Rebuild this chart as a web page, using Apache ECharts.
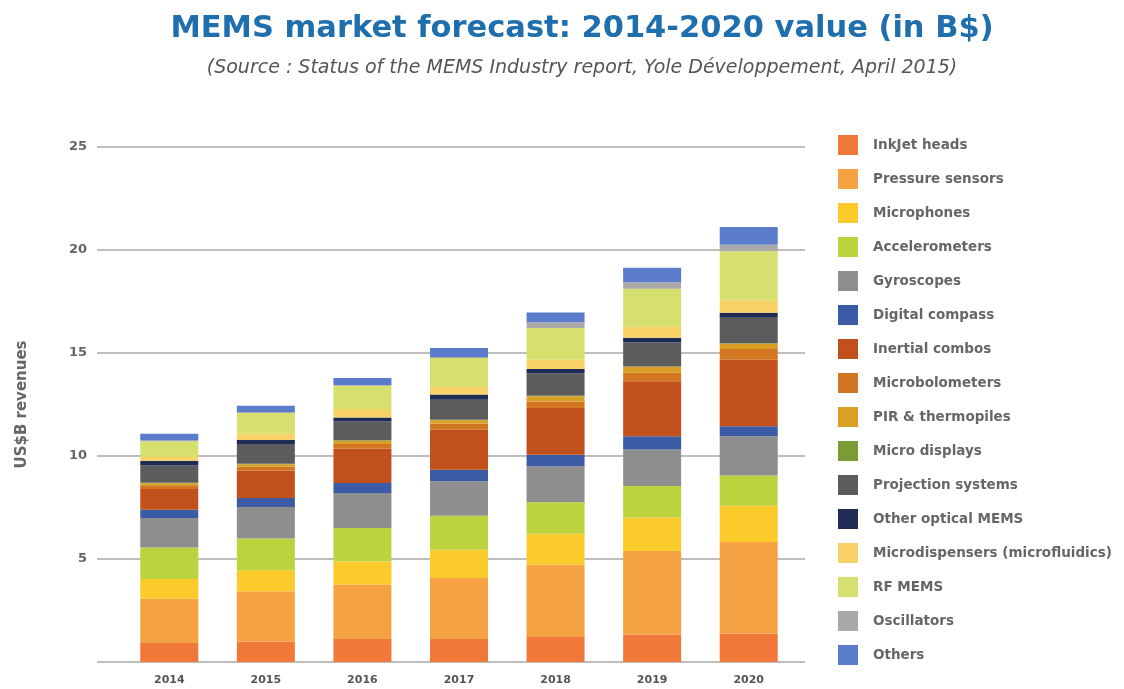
<!DOCTYPE html>
<html>
<head>
<meta charset="utf-8">
<script src="https://cdn.jsdelivr.net/npm/echarts@6/dist/echarts.min.js"></script>
<style>html,body{margin:0;padding:0;background:#fff}#c{width:1124px;height:689px}</style>
</head>
<body>
<div id="c"></div>
<script>
var years = ['2014','2015','2016','2017','2018','2019','2020'];
var yTicks = [0, 5, 10, 15, 20, 25];
var segNames = ['InkJet heads','Pressure sensors','Microphones','Accelerometers','Gyroscopes','Digital compass','Inertial combos','Microbolometers','PIR & thermopiles','Micro displays','Projection systems','Other optical MEMS','Microdispensers (microfluidics)','RF MEMS','Oscillators','Others'];
var inkjet        = [0.92, 1.00, 1.12, 1.12, 1.21, 1.34, 1.38];
var pressure      = [2.15, 2.43, 2.63, 2.96, 3.51, 4.05, 4.44];
var microphones   = [0.96, 1.02, 1.13, 1.37, 1.51, 1.62, 1.77];
var accelerometers= [1.53, 1.54, 1.62, 1.65, 1.52, 1.53, 1.46];
var gyroscopes    = [1.43, 1.53, 1.70, 1.67, 1.75, 1.77, 1.91];
var compass       = [0.40, 0.44, 0.49, 0.56, 0.56, 0.65, 0.49];
var combos        = [1.01, 1.34, 1.67, 1.95, 2.27, 2.67, 3.22];
var microbolo     = [0.18, 0.18, 0.22, 0.30, 0.32, 0.41, 0.52];
var pir           = [0.10, 0.12, 0.16, 0.16, 0.25, 0.29, 0.26];
var microdisplays = [0.02, 0.02, 0.02, 0.02, 0.02, 0.02, 0.02];
var projection    = [0.84, 0.96, 0.92, 0.97, 1.08, 1.17, 1.24];
var otherOptical  = [0.23, 0.20, 0.19, 0.25, 0.22, 0.22, 0.24];
var microdisp     = [0.18, 0.30, 0.41, 0.37, 0.45, 0.53, 0.61];
var rfmems        = [0.76, 1.01, 1.13, 1.41, 1.54, 1.85, 2.38];
var oscillators   = [0.04, 0.03, 0.04, 0.04, 0.28, 0.32, 0.32];
var others        = [0.33, 0.32, 0.34, 0.44, 0.48, 0.70, 0.86];
var segValues = [inkjet, pressure, microphones, accelerometers, gyroscopes, compass, combos, microbolo, pir, microdisplays, projection, otherOptical, microdisp, rfmems, oscillators, others];
var segColors = ['#f07838','#f5a242','#fbcb2c','#bcd33e','#8e8e8e','#3b5ba6','#c2501a','#d27622','#d9a024','#7b9c32','#5c5c5c','#1f2b52','#f8d266','#d6e06e','#a9a9a9','#5a7ccb'];

var series = segNames.map(function(n, i){
  return {
    name: n, type: 'bar', stack: 'total', barWidth: 58,
    xAxisIndex: 0, yAxisIndex: 0,
    itemStyle: { color: segColors[i] },
    data: segValues[i]
  };
});

var chart = echarts.init(document.getElementById('c'), null, {renderer:'canvas'});
chart.setOption({
  animation: false,
  backgroundColor: '#fff',
  title: {
    text: 'MEMS market forecast: 2014-2020 value (in B$)',
    subtext: '(Source : Status of the MEMS Industry report, Yole Développement, April 2015)',
    left: 577, top: 9, textAlign: 'center', itemGap: 14,
    textStyle: { fontFamily: 'DejaVu Sans', fontWeight: 'bold', fontSize: 30.5, color: '#1f6fae' },
    subtextStyle: { fontFamily: 'DejaVu Sans', fontStyle: 'italic', fontSize: 19, color: '#555' }
  },
  legend: {
    orient: 'vertical', left: 833, top: 130,
    itemWidth: 20, itemHeight: 20, itemGap: 14, icon: 'rect',
    textStyle: { fontFamily: 'DejaVu Sans', fontWeight: 'bold', fontSize: 13.5, color: '#666', padding: [0,0,0,10] },
    data: segNames
  },
  grid: [
    { left: 121, right: 327, top: 147, bottom: 27 },
    { left: 97, right: 319, top: 147, bottom: 27 }
  ],
  xAxis: [
    { type: 'category', gridIndex: 0, data: years,
      axisLine: { show: false }, axisTick: { show: false },
      axisLabel: { fontFamily: 'DejaVu Sans', fontWeight: 'bold', fontSize: 11, color: '#555', margin: 13 } },
    { type: 'value', gridIndex: 1, min: 0, max: 1, show: false }
  ],
  yAxis: [
    { type: 'value', gridIndex: 0, min: 0, max: 25, interval: 5, show: false },
    { type: 'value', gridIndex: 1, min: yTicks[0], max: yTicks[yTicks.length-1], interval: 5,
      name: 'US$B revenues', nameLocation: 'middle', nameGap: 67, nameRotate: 90,
      nameTextStyle: { fontFamily: 'DejaVu Sans', fontWeight: 'bold', fontSize: 15, color: '#666' },
      axisLine: { show: false }, axisTick: { show: false },
      splitLine: { show: true, lineStyle: { color: '#a8a8a8', width: 1.5 } },
      axisLabel: { fontFamily: 'DejaVu Sans', fontWeight: 'bold', fontSize: 13, color: '#666', margin: 10,
        formatter: function(v){ return v === 0 ? '' : String(v); } } }
  ],
  series: series
});
</script>
</body>
</html>
